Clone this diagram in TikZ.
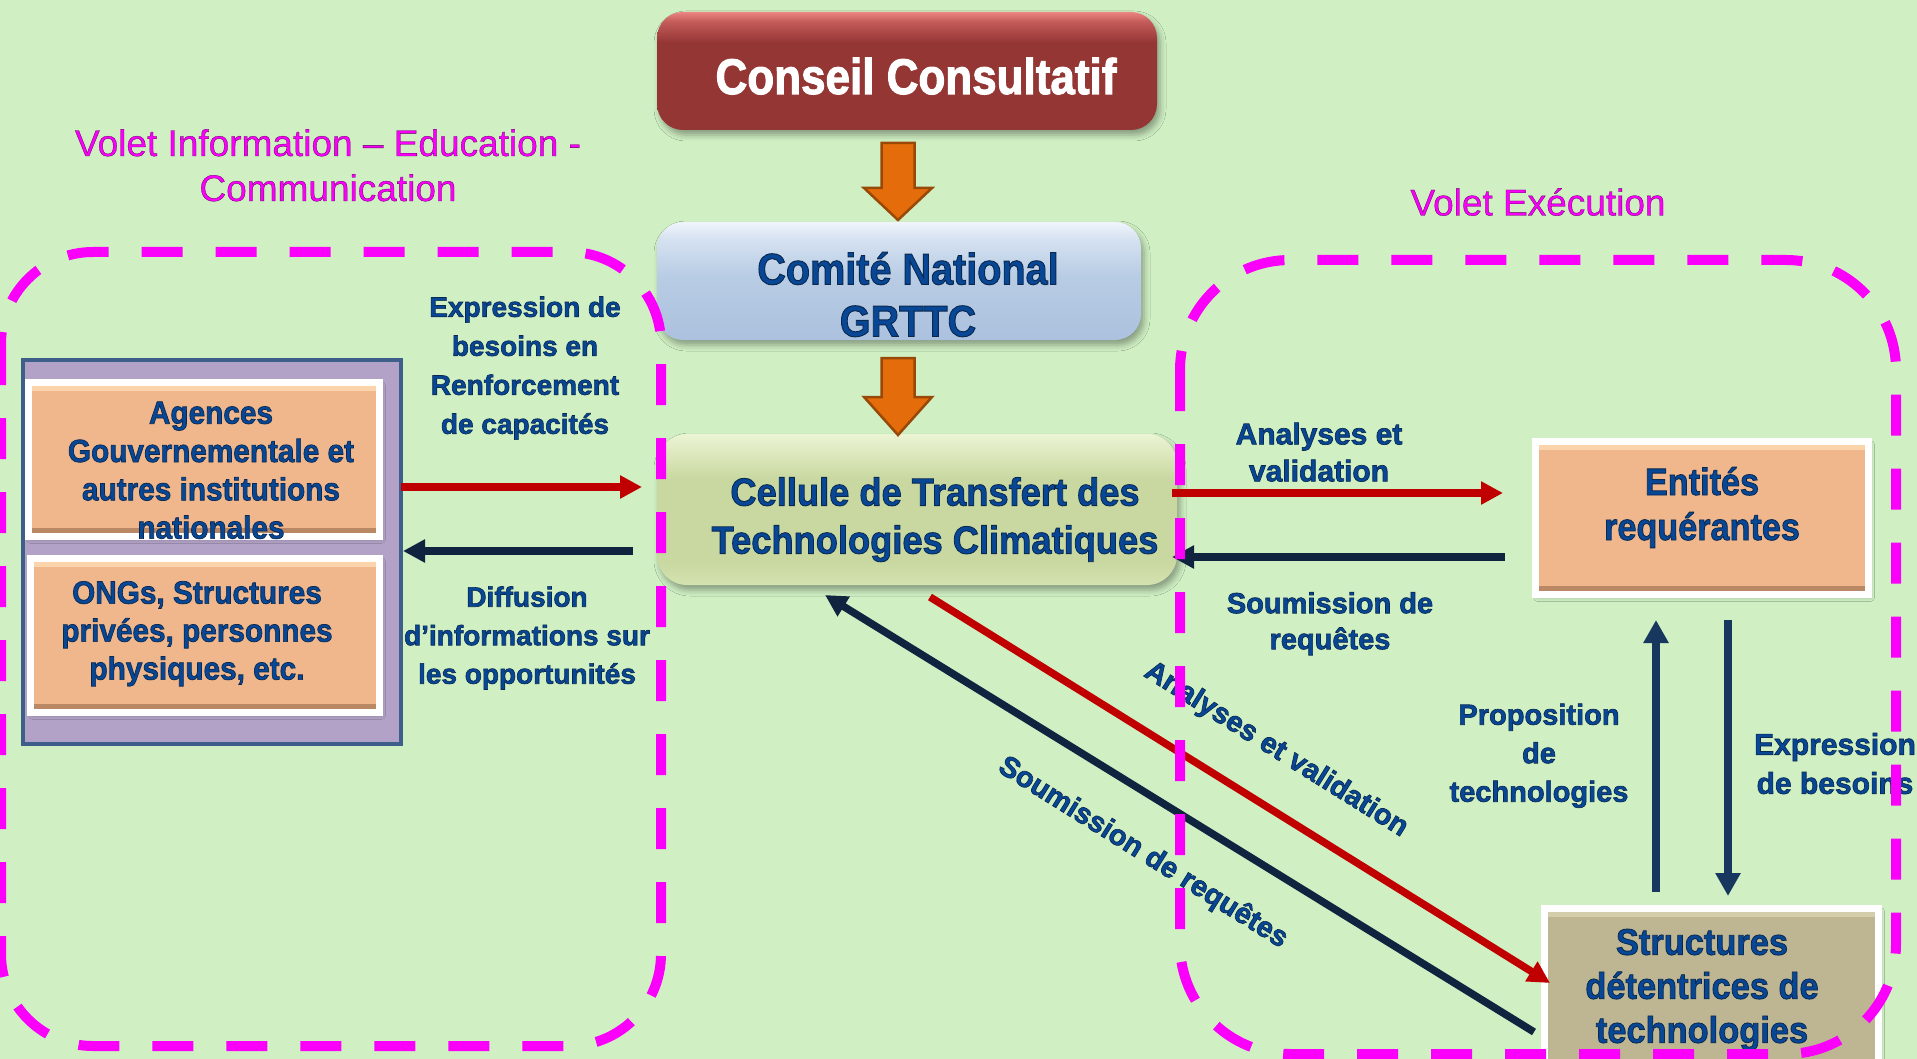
\documentclass[tikz,border=0pt]{standalone}
\usepackage{fontspec}
\setmainfont{Liberation Sans}
\newfontfamily\hv{Liberation Sans}[FakeBold=2.2]
\newfontfamily\hvthin{Liberation Sans}[FakeBold=0.8]
\usepackage{graphicx}
\usetikzlibrary{calc,arrows.meta,shadows.blur}

\definecolor{bg}{RGB}{208,240,196}
\definecolor{mag}{RGB}{250,0,250}
\definecolor{tblue}{RGB}{8,70,150}
\definecolor{redarr}{RGB}{192,0,0}
\definecolor{navy}{RGB}{16,36,64}
\definecolor{navyv}{RGB}{23,55,94}
\definecolor{conred}{RGB}{148,54,52}
\definecolor{conmid}{RGB}{196,92,90}
\definecolor{conlight}{RGB}{236,132,130}
\definecolor{combot}{RGB}{172,193,222}
\definecolor{comblue}{RGB}{184,204,228}
\definecolor{commid}{RGB}{214,226,241}
\definecolor{comlight}{RGB}{240,245,251}
\definecolor{celbot}{RGB}{212,226,176}
\definecolor{celgreen}{RGB}{200,216,160}
\definecolor{cellight}{RGB}{236,244,212}
\definecolor{orfill}{RGB}{240,183,140}
\definecolor{orlight}{RGB}{252,212,172}
\definecolor{ordark}{RGB}{186,136,100}
\definecolor{tanfill}{RGB}{190,182,146}
\definecolor{tanlight}{RGB}{212,205,172}
\definecolor{purfill}{RGB}{179,162,199}
\definecolor{purdraw}{RGB}{62,95,138}
\definecolor{arrfill}{RGB}{228,108,10}
\definecolor{arrdraw}{RGB}{152,72,7}

\pgfdeclareverticalshading{conshade}{100bp}{color(0bp)=(conred); color(25bp)=(conred); color(62bp)=(conred); color(71bp)=(conmid); color(75bp)=(conlight); color(100bp)=(conlight)}
\pgfdeclareverticalshading{comshade}{100bp}{color(0bp)=(combot); color(25bp)=(combot); color(52bp)=(comblue); color(68bp)=(commid); color(75bp)=(comlight); color(100bp)=(comlight)}
\pgfdeclareverticalshading{celshade}{100bp}{color(0bp)=(celbot); color(25bp)=(celbot); color(33bp)=(celgreen); color(60bp)=(celgreen); color(75bp)=(cellight); color(100bp)=(cellight)}

% dark stroke colour for the outlined (FakeBold) glyphs
\newcommand\darkstroke{\special{pdf:code 0.04 0.16 0.31 RG}}
\newcommand\magstroke{\special{pdf:code 0.35 0 0.35 RG}}
\newcommand\fs[2]{\hv\fontsize{#1}{#2}\selectfont\bfseries}
\newcommand\mlt[2]{\scalebox{#1}[1]{\darkstroke\begin{tabular}{@{}c@{}}#2\end{tabular}}}
\newcommand\wlt[2]{\scalebox{#1}[1]{\begin{tabular}{@{}c@{}}#2\end{tabular}}}
\newcommand\blockarr[2]{%
  \filldraw[arrstyle] ($(#1)+(-16.5,-77)$) -- ($(#1)+(16.5,-77)$) -- ($(#1)+(16.5,-#2)$)
    -- ($(#1)+(34,-#2)$) -- (#1) -- ($(#1)+(-34,-#2)$) -- ($(#1)+(-16.5,-#2)$) -- cycle;}

\begin{document}
\begin{tikzpicture}[x=1pt,y=-1pt,
  softshadow/.style={blur shadow={shadow xshift=3pt,shadow yshift=-5pt,shadow blur radius=6pt,shadow opacity=35}},
  conbox/.style={rounded corners=26pt, minimum width=500pt, minimum height=118pt, shading=conshade, outer sep=0pt, inner sep=0pt, softshadow},
  combox/.style={rounded corners=26pt, minimum width=484pt, minimum height=118pt, shading=comshade, outer sep=0pt, inner sep=0pt, softshadow},
  celbox/.style={rounded corners=30pt, minimum width=520pt, minimum height=151pt, shading=celshade, outer sep=0pt, inner sep=0pt, softshadow},
  purbox/.style={draw=purdraw, line width=4pt, fill=purfill, minimum width=378pt, minimum height=384pt, outer sep=0pt, inner sep=0pt},
  orbox/.style={draw=white, line width=7pt, fill=orfill, outer sep=0pt, inner sep=0pt,
    blur shadow={shadow xshift=2pt,shadow yshift=-3pt,shadow blur radius=4pt,shadow opacity=25},
    path picture={
      \fill[ordark] ([yshift=-1pt]path picture bounding box.south west) rectangle ([yshift=9pt]path picture bounding box.south east);
      \fill[orlight] ([yshift=-8pt]path picture bounding box.north west) rectangle ([yshift=1pt]path picture bounding box.north east);}},
  tanbox/.style={draw=white, line width=7pt, fill=tanfill, outer sep=0pt, inner sep=0pt,
    blur shadow={shadow xshift=2pt,shadow yshift=-3pt,shadow blur radius=4pt,shadow opacity=25},
    path picture={
      \fill[tanlight] ([yshift=-8pt]path picture bounding box.north west) rectangle ([yshift=1pt]path picture bounding box.north east);}},
  btxt/.style={inner sep=0pt, outer sep=0pt, text=tblue, align=center, yshift=-4pt},
  rtxt/.style={inner sep=0pt, outer sep=0pt, text=tblue, align=center},
  ttl/.style={inner sep=0pt, outer sep=0pt, text=mag, font=\hvthin\fontsize{37}{45}\selectfont},
  arrstyle/.style={fill=arrfill, draw=arrdraw, line width=2.5pt, line join=miter},
  redline/.style={draw=redarr, line width=7.5pt, -{Triangle[length=22pt,width=22pt]}},
  navyline/.style={draw=navy, line width=7.5pt, -{Triangle[length=22pt,width=22pt]}},
  vline/.style={draw=navyv, line width=8.5pt, -{Triangle[length=23pt,width=24pt]}},
  magdash/.style={draw=mag, line width=10pt, dash pattern=on 41pt off 33pt}
]
\path[use as bounding box] (0,0) rectangle (1917,1059);
\fill[bg] (0,0) rectangle (1917,1059);
\clip (0,0) rectangle (1917,1059);

% titles
\node[ttl] (tIEC) at (328,169.5) {\magstroke\begin{tabular}{@{}c@{}}Volet Information – Education -\\Communication\end{tabular}};
\node[ttl] (tExec) at (1538,202) {\magstroke Volet Exécution};

% central column
\node[conbox] (conseil) at (907,71) {};
\node[btxt, text=white, font=\fs{50}{60}] (conseilT) at (916,78) {\wlt{0.88}{Conseil Consultatif}};
\node[combox] (comite) at (899,281) {};
\node[btxt, font=\fs{44}{52}] (comiteT) at (908,296) {\mlt{0.9}{Comité National\\GRTTC}};
\node[celbox] (cellule) at (917,509.5) {};
\node[btxt, font=\fs{39}{48}] (celluleT) at (935,516) {\mlt{0.93}{Cellule de Transfert des\\Technologies Climatiques}};

\coordinate (tip1) at ($(comite.north)+(-1,-2)$);
\coordinate (tip2) at ($(comite.south)+(-1,95)$);
\blockarr{tip1}{32}
\blockarr{tip2}{38}

% left group
\node[purbox] (leftgrp) at (212,552) {};
\node[orbox, minimum width=351pt, minimum height=154pt] (agences) at (204,459.5) {};
\node[btxt, font=\fs{32}{38.3}] (agencesT) at (211,469.5) {\mlt{0.93}{Agences\\Gouvernementale et\\autres institutions\\nationales}};
\node[orbox, minimum width=349pt, minimum height=154pt] (ongs) at (205,635.5) {};
\node[btxt, font=\fs{32}{38}] (ongsT) at (197,630) {\mlt{0.93}{ONGs, Structures\\privées, personnes\\physiques, etc.}};

% right boxes
\node[orbox, minimum width=333pt, minimum height=153pt] (entites) at (1702,518) {};
\node[btxt, font=\fs{38}{45}] (entitesT) at (1702,504.5) {\mlt{0.9}{Entités\\requérantes}};
\node[tanbox, minimum width=334pt, minimum height=193pt] (struct) at (1711.5,1005) {};
\node[btxt, font=\fs{37}{44}] (structT) at (1702,986) {\mlt{0.93}{Structures\\détentrices de\\technologies}};

% connectors
\draw[redline] ($(leftgrp.east)+(0,-65)$) -- ($(cellule.west)+(-15,-22.5)$);
\draw[navyline] ($(cellule.west)+(-24,41.5)$) -- ($(leftgrp.east)+(2,-1)$);
\draw[redline] ($(cellule.east)+(-5,-16.5)$) -- ($(entites.west)+(-32.5,-25)$);
\draw[navyline] ($(entites.west)+(-30.5,39)$) -- ($(cellule.east)+(-5,47.5)$);
\draw[vline] ($(struct.north)+(-55.5,-16.5)$) -- ($(entites.south)+(-46,25.5)$);
\draw[vline] ($(entites.south)+(26,25.5)$) -- ($(struct.north)+(16.5,-12.5)$);
\draw[redline] ($(cellule.south)+(13,12)$) -- ($(struct.west)+(5.5,-22)$);
\draw[navyline] ($(struct.west)+(-10.5,27)$) -- ($(cellule.south)+(-92,10)$);

% labels
\node[btxt, font=\fs{28}{39}] (lExpr) at (525,363.5) {\mlt{1}{Expression de\\besoins en\\Renforcement\\de capacités}};
\node[btxt, font=\fs{28}{38.5}] (lDiff) at (527,633.5) {\mlt{1}{Diffusion\\d’informations sur\\les opportunités}};
\node[btxt, font=\fs{30}{37}] (lAna) at (1319,451.5) {\mlt{1}{Analyses et\\validation}};
\node[btxt, font=\fs{29}{36}] (lSoum) at (1330,620) {\mlt{1}{Soumission de\\requêtes}};
\node[btxt, font=\fs{29}{38.5}] (lProp) at (1539,751.5) {\mlt{1}{Proposition\\de\\technologies}};
\node[btxt, font=\fs{30}{39}] (lExpr2) at (1835,762.5) {\mlt{1}{Expression\\de besoins}};
\node[rtxt, font=\fs{29}{35}, rotate=-32] (lAnaD) at (1276,750) {\darkstroke Analyses et validation};
\node[rtxt, font=\fs{29}{35}, rotate=-32] (lSoumD) at (1143,853) {\darkstroke Soumission de requêtes};

% dashed groups
\draw[magdash, rounded corners=92pt] (1,252) rectangle (661,1046);
\draw[magdash, rounded corners=110pt] (1180,260) rectangle (1896,1054);
\end{tikzpicture}
\end{document}
